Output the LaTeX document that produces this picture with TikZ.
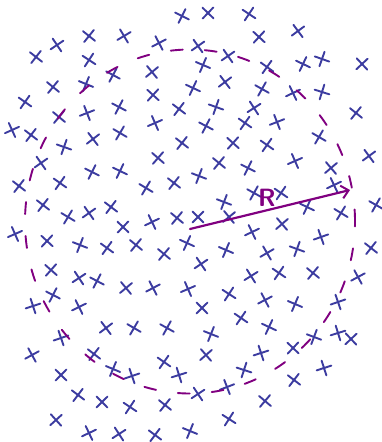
\documentclass[tikz,border=0pt]{standalone}
\usepackage{fontspec}
\usetikzlibrary{shapes.misc,arrows.meta}
\definecolor{xblue}{RGB}{60,60,160}
\definecolor{rpurple}{RGB}{128,0,128}
\begin{document}
\begin{tikzpicture}[x=1pt,y=-1pt,
  crossmark/.style={cross out,draw=xblue,line width=1.9pt,minimum size=9pt,inner sep=0pt,line cap=round},
  circ/.style={draw=rpurple,line width=1.9pt,dash pattern=on 12pt off 22pt,line cap=round},
  radius arrow/.style={draw=rpurple,line width=2.2pt,line cap=round,-{Straight Barb[length=7pt,width=13pt,line width=2pt]}},
  rlabel/.style={text=rpurple,font=\sffamily\bfseries\fontsize{25}{25}\selectfont,inner sep=0pt}]
\useasboundingbox (0,0) rectangle (382,442);
\pgfmathsetseed{11}
\foreach \x/\y [count=\i] in {182/16,208/13,249/14,298/31,259/37,57/45,89/36,124/36,159/43,198/46,
228/56,36/57,89/60,203/65,267/67,303/64,322/59,362/64,152/72,113/75,
53/87,86/84,193/88,225/82,262/89,293/93,322/92,25/102,153/95,87/113,
119/107,179/109,216/107,254/108,356/113,59/117,155/123,206/126,245/123,277/122,
12/130,31/135,93/139,120/133,182/143,233/143,267/145,319/137,64/147,158/158,
219/163,295/161,369/156,41/163,92/172,120/171,248/168,331/168,199/176,19/186,
60/183,146/188,174/183,334/185,254/193,281/193,43/205,111/207,224/202,307/207,
376/205,68/217,89/213,152/222,177/218,198/217,229/217,341/213,123/227,282/224,
252/232,15/234,47/241,80/245,107/248,136/245,164/254,187/243,226/250,267/253,
297/249,321/237,371/248,201/264,51/270,79/278,97/281,126/288,153/288,188/289,
251/276,279/273,313/273,358/277,53/295,229/294,33/306,79/307,202/308,265/300,
295/304,338/302,241/318,106/328,134/328,167/328,269/327,61/338,211/334,314/337,
338/333,351/339,32/355,94/354,206/355,261/353,293/348,113/369,164/362,132/376,
179/375,61/375,244/370,324/368,294/380,227/387,198/394,78/395,102/402,130/407,
165/405,265/401,56/420,229/419,89/433,119/434,155/435,190/431}
{
  \pgfmathsetmacro\r{rand*28}
  \node[crossmark,rotate=\r] (c\i) at (\x,\y) {};
}
\draw[circ] (190,221.5) ellipse [x radius=165pt, y radius=172pt];
\coordinate (O) at (190,229);
\coordinate (P) at (350,190);
\draw[radius arrow] (O) -- (P);
\node[rlabel] (R) at (267,198) {R};
\end{tikzpicture}
\end{document}
